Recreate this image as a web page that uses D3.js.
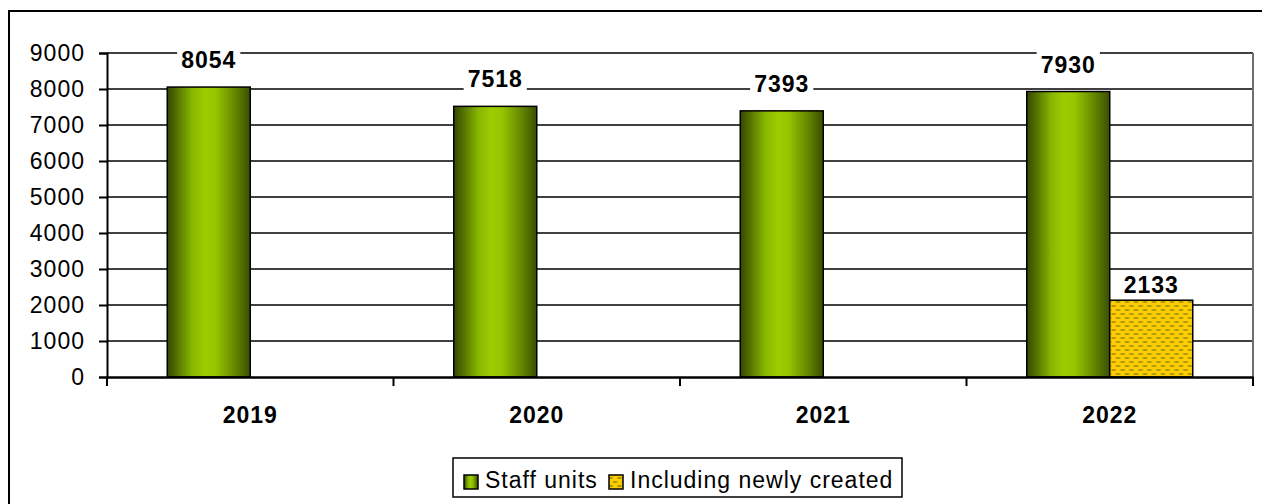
<!DOCTYPE html>
<html>
<head>
<meta charset="utf-8">
<script src="https://cdn.jsdelivr.net/npm/d3@7"></script>
<style>
  html, body { margin: 0; padding: 0; background: #fff; }
  svg { display: block; font-family: "Liberation Sans", Arial, sans-serif; }
  text { letter-spacing: 1px; }
</style>
</head>
<body>
<svg id="chart" width="1262" height="504"></svg>
<script>
// Chart data
const years = ["2019", "2020", "2021", "2022"];
const staffUnits = [8054, 7518, 7393, 7930];
const newlyCreated = [null, null, null, 2133];
const seriesNames = ["Staff units", "Including newly created"];
const yTicks = [0, 1000, 2000, 3000, 4000, 5000, 6000, 7000, 8000, 9000];

const svg = d3.select("#chart");
const W = 1262, H = 504;
const plot = { left: 107, right: 1253, top: 53, bottom: 377 };
const FS = 23;

// Outer frame
svg.append("rect")
  .attr("x", 9).attr("y", 11)
  .attr("width", W + 10).attr("height", H + 10)
  .attr("fill", "#fff").attr("stroke", "#000").attr("stroke-width", 2);

const defs = svg.append("defs");

// Cylinder-like horizontal shading for the green bars
const grad = defs.append("linearGradient").attr("id", "greenGrad")
  .attr("x1", "0%").attr("x2", "100%").attr("y1", "0%").attr("y2", "0%");
[["0%", "#344800"], ["10%", "#4f6c00"], ["30%", "#88b800"], ["45%", "#9ccc00"],
 ["58%", "#96c600"], ["80%", "#688a00"], ["100%", "#3a4f00"]]
  .forEach(([o, c]) => grad.append("stop").attr("offset", o).attr("stop-color", c));

// Dotted fill for the yellow bars
const pat = defs.append("pattern").attr("id", "yellowPat")
  .attr("patternUnits", "userSpaceOnUse").attr("width", 9).attr("height", 8);
pat.append("rect").attr("width", 9).attr("height", 8).attr("fill", "#ffcc00");
[[0.5, 1], [5, 5], [-4, 5]].forEach(([dx, dy]) => {
  pat.append("rect").attr("x", dx).attr("y", dy).attr("width", 5).attr("height", 2).attr("fill", "#c9ab12");
  pat.append("rect").attr("x", dx + 1).attr("y", dy + 0.5).attr("width", 3).attr("height", 1).attr("fill", "#86870a");
});

// Scales
const x = d3.scaleBand().domain(years).range([plot.left, plot.right]).paddingInner(0).paddingOuter(0);
const xs = d3.scaleBand().domain(seriesNames).range([0, x.bandwidth()]).paddingInner(0).paddingOuter(0.726);
const y = d3.scaleLinear().domain([0, 9000]).range([plot.bottom, plot.top]);

// Gridlines
svg.append("g").selectAll("line").data(yTicks.filter(t => t > 0)).join("line")
  .attr("x1", plot.left).attr("x2", plot.right)
  .attr("y1", d => y(d)).attr("y2", d => y(d))
  .attr("stroke", "#000").attr("stroke-width", 1.6);

// Right edge of the plot area
svg.append("line")
  .attr("x1", plot.right).attr("x2", plot.right)
  .attr("y1", plot.top).attr("y2", plot.bottom)
  .attr("stroke", "#6e6e6e").attr("stroke-width", 2);

// Y axis
const yAxis = d3.axisLeft(y).tickValues(yTicks).tickSize(8).tickPadding(14).tickFormat(d3.format("d"));
const gy = svg.append("g").attr("transform", `translate(${plot.left},0)`).call(yAxis);
gy.select(".domain").attr("stroke", "#000").attr("stroke-width", 2);
gy.selectAll(".tick line").attr("stroke", "#000").attr("stroke-width", 2);
gy.selectAll(".tick text").attr("font-size", FS).attr("fill", "#000")
  .attr("font-family", "'Liberation Sans', Arial, sans-serif");

// Bars
const rows = years.map((yr, i) => ({ year: yr, values: [staffUnits[i], newlyCreated[i]] }));
const groups = svg.append("g").selectAll("g").data(rows).join("g")
  .attr("transform", d => `translate(${x(d.year)},0)`);

groups.selectAll("rect")
  .data(d => d.values.map((v, j) => ({ v, s: seriesNames[j], j })).filter(e => e.v != null))
  .join("rect")
  .attr("x", e => xs(e.s))
  .attr("width", xs.bandwidth())
  .attr("y", e => y(e.v))
  .attr("height", e => y(0) - y(e.v))
  .attr("fill", e => e.j === 0 ? "url(#greenGrad)" : "url(#yellowPat)")
  .attr("stroke", "#000").attr("stroke-width", 1.5);

// X axis
const xAxis = d3.axisBottom(x).tickSize(0).tickPadding(0).tickFormat("");
const gx = svg.append("g").attr("transform", `translate(0,${plot.bottom})`).call(xAxis);
gx.select(".domain").attr("stroke", "#000").attr("stroke-width", 2.5);
const bounds = years.map(yr => x(yr)).concat([plot.right]);
svg.append("g").selectAll("line").data(bounds).join("line")
  .attr("x1", d => d).attr("x2", d => d)
  .attr("y1", plot.bottom).attr("y2", plot.bottom + 9)
  .attr("stroke", "#000").attr("stroke-width", 2);
svg.append("g").selectAll("text").data(years).join("text")
  .attr("x", d => x(d) + x.bandwidth() / 2)
  .attr("y", 423)
  .attr("text-anchor", "middle")
  .attr("font-size", FS).attr("font-weight", "bold")
  .text(d => d);

// Value labels with white backing
const labelOffset = [19, 7];
const labels = [];
rows.forEach(r => r.values.forEach((v, j) => {
  if (v != null) labels.push({ v, j, cx: x(r.year) + xs(seriesNames[j]) + xs.bandwidth() / 2, by: y(v) - labelOffset[j] });
}));
const lg = svg.append("g").selectAll("g").data(labels).join("g");
lg.append("text")
  .attr("x", d => d.cx).attr("y", d => d.by)
  .attr("text-anchor", "middle")
  .attr("font-size", FS).attr("font-weight", "bold")
  .text(d => d.v);
lg.each(function (d) {
  const g = d3.select(this);
  const bb = g.select("text").node().getBBox();
  g.insert("rect", "text")
    .attr("x", bb.x - 4).attr("y", d.by - 21)
    .attr("width", bb.width + 8).attr("height", 24)
    .attr("fill", "#fff");
});

// Legend
const legend = svg.append("g");
legend.append("rect")
  .attr("x", 453).attr("y", 458).attr("width", 449).attr("height", 39)
  .attr("fill", "#fff").attr("stroke", "#000").attr("stroke-width", 1.5);
const legendItems = [
  { name: seriesNames[0], fill: "url(#greenGrad)", mx: 464, tx: 485 },
  { name: seriesNames[1], fill: "url(#yellowPat)", mx: 609, tx: 630 }
];
legendItems.forEach(it => {
  legend.append("rect")
    .attr("x", it.mx).attr("y", 475).attr("width", 14).attr("height", 14)
    .attr("fill", it.fill).attr("stroke", "#000").attr("stroke-width", 1.5);
  legend.append("text")
    .attr("x", it.tx).attr("y", 488)
    .attr("font-size", FS)
    .text(it.name);
});
</script>
</body>
</html>
